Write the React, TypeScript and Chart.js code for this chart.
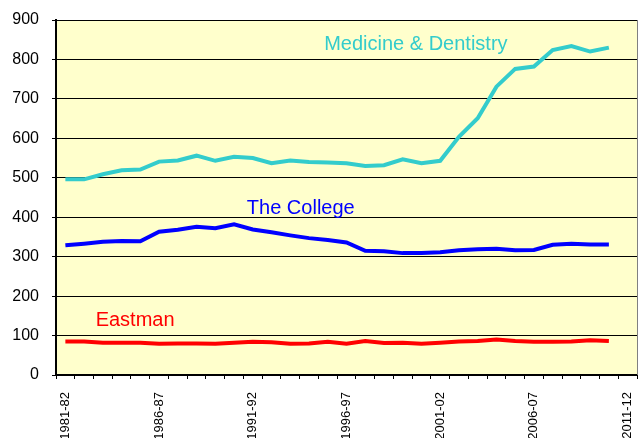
import React, { useEffect, useRef } from 'react';
import { Chart, registerables } from 'chart.js';

Chart.register(...registerables);

const categories = [
  '1981-82', '1982-83', '1983-84', '1984-85', '1985-86', '1986-87', '1987-88', '1988-89',
  '1989-90', '1990-91', '1991-92', '1992-93', '1993-94', '1994-95', '1995-96', '1996-97',
  '1997-98', '1998-99', '1999-00', '2000-01', '2001-02', '2002-03', '2003-04', '2004-05',
  '2005-06', '2006-07', '2007-08', '2008-09', '2009-10', '2010-11', '2011-12',
];

const medicine = [
  496, 496, 509, 519, 521, 541, 544, 556, 543, 553, 550, 537, 544, 540, 539, 537,
  530, 532, 547, 537, 543, 604, 651, 731, 776, 782, 824, 834, 820, 830, null,
];
const college = [
  329, 333, 338, 340, 339, 363, 368, 376, 372, 382, 369, 362, 354, 347, 342, 336,
  315, 314, 309, 309, 311, 316, 319, 320, 316, 317, 330, 333, 331, 331, null,
];
const eastman = [
  85, 85, 82, 82, 82, 79, 80, 80, 79, 82, 84, 83, 79, 80, 84, 79,
  86, 81, 82, 79, 82, 85, 86, 90, 86, 84, 84, 85, 88, 86, null,
];

const yTicks = [0, 100, 200, 300, 400, 500, 600, 700, 800, 900];
const labelEvery = 5;

const seriesNames = ['Medicine & Dentistry', 'The College', 'Eastman'];
const seriesColors = ['#33CCCC', '#0000FF', '#FF0000'];
// anchor of each series name: category position and value at text baseline
const nameAtCategory = [18.7, 12.56, 3.72];
const nameAtValue = [824, 407, 124];

const FONT = '"Liberation Sans", Arial, sans-serif';

const plotPlugin = {
  id: 'plotDecor',
  beforeDraw(chart: any) {
    const { ctx, chartArea } = chart;
    ctx.save();
    ctx.fillStyle = '#FFFFCC';
    ctx.fillRect(chartArea.left, chartArea.top, chartArea.right - chartArea.left, chartArea.bottom - chartArea.top);
    ctx.restore();
  },
  afterDraw(chart: any) {
    const { ctx, chartArea, scales } = chart;
    ctx.save();
    ctx.strokeStyle = '#808080';
    ctx.lineWidth = 1;
    ctx.beginPath();
    ctx.moveTo(chartArea.right + 0.5, chartArea.top);
    ctx.lineTo(chartArea.right + 0.5, chartArea.bottom);
    ctx.stroke();
    ctx.font = `20px ${FONT}`;
    ctx.textAlign = 'center';
    ctx.textBaseline = 'alphabetic';
    seriesNames.forEach((name, i) => {
      const x = scales.x.getPixelForValue(nameAtCategory[i]);
      const y = scales.y.getPixelForValue(nameAtValue[i]);
      ctx.fillStyle = seriesColors[i];
      ctx.fillText(name, x, y);
    });
    ctx.restore();
  },
};

export default function App() {
  const ref = useRef<HTMLCanvasElement>(null);

  useEffect(() => {
    document.body.style.margin = '0';
    const canvas = ref.current!;
    const seriesData = [medicine, college, eastman];
    const chart = new Chart(canvas, {
      type: 'line',
      data: {
        labels: categories,
        datasets: seriesNames.map((name, i) => ({
          label: name,
          data: seriesData[i],
          borderColor: seriesColors[i],
          backgroundColor: seriesColors[i],
          borderWidth: 4,
          pointRadius: 0,
          tension: 0,
          fill: false,
        })),
      },
      options: {
        animation: false,
        responsive: false,
        events: [],
        layout: { padding: { top: 20, right: 1, left: 0, bottom: 0 } },
        plugins: {
          legend: { display: false },
          tooltip: { enabled: false },
          title: { display: false },
        },
        scales: {
          x: {
            type: 'category',
            offset: true,
            afterFit: (axis: any) => {
              axis.height = 63;
              axis.paddingLeft = 0;
              axis.paddingRight = 0;
            },
            border: { display: true, color: '#000', width: 2 },
            grid: {
              offset: true,
              drawOnChartArea: false,
              drawTicks: true,
              tickLength: 4,
              color: '#000',
              lineWidth: 1,
            },
            ticks: {
              autoSkip: false,
              minRotation: 90,
              maxRotation: 90,
              padding: 13,
              color: '#000',
              font: { family: FONT, size: 13 },
              callback: (_v: any, i: number) => (i % labelEvery === 0 ? categories[i] : ''),
            },
          },
          y: {
            min: yTicks[0],
            max: yTicks[yTicks.length - 1],
            afterFit: (axis: any) => {
              axis.width = 56;
              axis.paddingTop = 0;
              axis.paddingBottom = 0;
            },
            afterBuildTicks: (axis: any) => { axis.ticks = yTicks.map((v) => ({ value: v })); },
            border: { display: true, color: '#000', width: 2 },
            grid: {
              color: '#000',
              lineWidth: 1,
              drawTicks: true,
              tickLength: 4,
            },
            ticks: {
              padding: 13,
              color: '#000',
              font: { family: FONT, size: 16 },
            },
          },
        },
      },
      plugins: [plotPlugin],
    });
    return () => chart.destroy();
  }, []);

  return (
    <div style={{ position: 'absolute', left: 0, top: 0, width: 638, height: 438 }}>
      <canvas ref={ref} width={638} height={438} style={{ display: 'block' }} />
    </div>
  );
}
